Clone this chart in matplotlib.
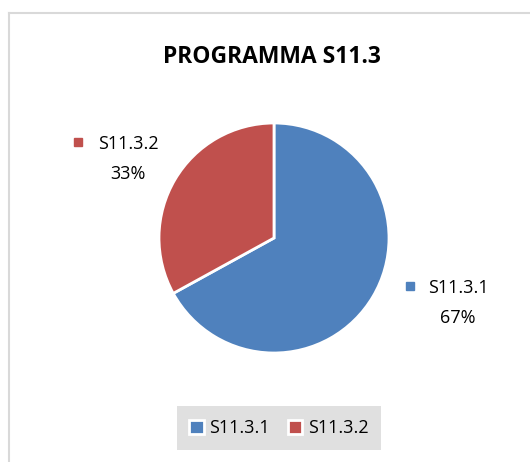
import matplotlib.pyplot as plt
from matplotlib.patches import Rectangle
from matplotlib.lines import Line2D

plt.rcParams['font.family'] = ['Open Sans', 'DejaVu Sans']

categories = ["S11.3.1", "S11.3.2"]
values = [67, 33]
colors = ["#4F81BD", "#C0504D"]
title = "PROGRAMMA S11.3"

W, H = 530, 462
fig = plt.figure(figsize=(W / 100, H / 100), dpi=100)


def fx(px):
    return px / W


def fy(py):
    return 1 - py / H


# chart frame (top and left edges only visible)
fig.add_artist(Line2D([fx(9), 1], [fy(13), fy(13)], color="#d9d9d9", lw=1.5))
fig.add_artist(Line2D([fx(9), fx(9)], [fy(13), 0], color="#d9d9d9", lw=1.5))

fig.text(fx(272), fy(57), title, ha="center", va="center",
         fontsize=16.5, fontweight="bold")

# pie
ax = fig.add_axes([fx(159), fy(353), 230 / W, 230 / H])
wedges, _ = ax.pie(values, colors=colors, startangle=90, counterclock=False,
                   wedgeprops=dict(edgecolor="white", linewidth=2))
ax.set_xlim(-1, 1)
ax.set_ylim(-1, 1)
ax.set_aspect("equal")

# data labels
total = sum(values)
label_pos = [(458, 288, 410), (128, 144, 78)]
for cat, val, col, (cx, ty, mx) in zip(categories, values, colors, label_pos):
    fig.add_artist(Rectangle((fx(mx - 4), fy(ty + 2)), 8 / W, 8 / H,
                             transform=fig.transFigure, color=col))
    fig.text(fx(cx), fy(ty), cat, ha="center", va="center", fontsize=13)
    fig.text(fx(cx), fy(ty + 30), f"{round(val / total * 100)}%",
             ha="center", va="center", fontsize=13)

# legend
leg = fig.legend(wedges, categories, loc="center", ncol=2,
                 bbox_to_anchor=(fx(279), fy(428)), frameon=True,
                 facecolor="#d9d9d9", edgecolor="#d9d9d9", fancybox=False,
                 fontsize=13, handlelength=0.8, handleheight=0.8,
                 handletextpad=0.3, columnspacing=1.0, borderpad=0.7)
leg.get_frame().set_linewidth(0)

fig.savefig("out.png", dpi=100)
